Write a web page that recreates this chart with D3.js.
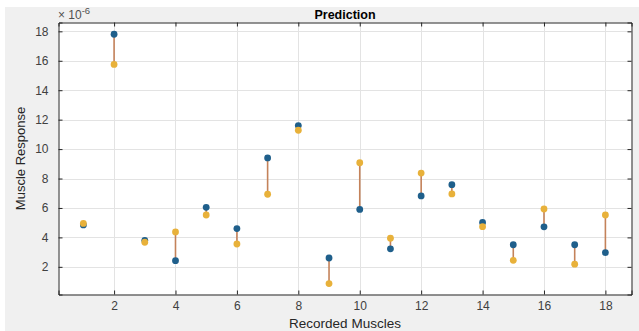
<!DOCTYPE html>
<html><head><meta charset="utf-8">
<script src="https://cdn.jsdelivr.net/npm/d3@7"></script>
<style>body{margin:0;background:#fff;}svg{display:block;}</style>
</head><body>
<svg id="c" width="639" height="331"></svg>
<script>
const muscles = [1,2,3,4,5,6,7,8,9,10,11,12,13,14,15,16,17,18];
const measured = [4.85,17.8,3.8,2.42,6.04,4.6,9.4,11.6,2.6,5.9,3.22,6.82,7.58,5.02,3.5,4.72,3.5,2.96];
const predicted = [4.95,15.75,3.67,4.37,5.52,3.55,6.93,11.28,0.86,9.07,3.94,8.37,6.95,4.73,2.44,5.93,2.18,5.52];
const xTicks = [2,4,6,8,10,12,14,16,18];
const yTicks = [2,4,6,8,10,12,14,16,18];
const titleText = "Prediction";
const xLabel = "Recorded Muscles";
const yLabel = "Muscle Response";

const svg = d3.select("#c");
const L=58.5, R=631.5, T=22.5, B=294.5;
svg.append("rect").attr("x",5).attr("y",7).attr("width",634).attr("height",324).attr("fill","#f0f0f0");
svg.append("rect").attr("x",L).attr("y",T).attr("width",R-L).attr("height",B-T).attr("fill","#fff");

const x = d3.scaleLinear().domain([0.19,18.85]).range([L,R]);
const y = d3.scaleLinear().domain([0.12,18.6]).range([B,T]);

// grid
svg.append("g").selectAll("line").data(xTicks).join("line")
  .attr("x1",d=>Math.round(x(d))+0.5).attr("x2",d=>Math.round(x(d))+0.5).attr("y1",T).attr("y2",B)
  .attr("stroke","#e3e3e3").attr("stroke-width",1);
svg.append("g").selectAll("line").data(yTicks).join("line")
  .attr("y1",d=>Math.round(y(d))+0.5).attr("y2",d=>Math.round(y(d))+0.5).attr("x1",L).attr("x2",R)
  .attr("stroke","#e3e3e3").attr("stroke-width",1);

// axes
const tickCol="#262626";
const xb = d3.axisBottom(x).tickValues(xTicks).tickSize(-4).tickPadding(7).tickFormat(d3.format("d"));
const gx = svg.append("g").attr("transform",`translate(0,${B})`).call(xb);
const xt = d3.axisTop(x).tickValues(xTicks).tickSize(-4).tickFormat("");
const gxt = svg.append("g").attr("transform",`translate(0,${T})`).call(xt);
const yl = d3.axisLeft(y).tickValues(yTicks).tickSize(-4).tickPadding(10).tickFormat(d3.format("d"));
const gy = svg.append("g").attr("transform",`translate(${L},0)`).call(yl);
const yr = d3.axisRight(y).tickValues(yTicks).tickSize(-4).tickFormat("");
const gyr = svg.append("g").attr("transform",`translate(${R},0)`).call(yr);
[gx,gxt,gy,gyr].forEach(g=>{
  g.select(".domain").attr("stroke",tickCol).attr("stroke-width",1);
  g.selectAll(".tick line").attr("stroke",tickCol);
  g.selectAll(".tick text").attr("fill","#404040").attr("font-family","Liberation Sans, Arial, sans-serif").attr("font-size",12);
});

// connecting lines
svg.append("g").selectAll("line").data(muscles).join("line")
  .attr("x1",(d,i)=>x(d)).attr("x2",(d,i)=>x(d))
  .attr("y1",(d,i)=>y(measured[i])).attr("y2",(d,i)=>y(predicted[i]))
  .attr("stroke","#c4825a").attr("stroke-width",1.6);

svg.append("g").selectAll("circle").data(muscles).join("circle")
  .attr("cx",d=>x(d)).attr("cy",(d,i)=>y(measured[i])).attr("r",3.4).attr("fill","#1f5f8b");
svg.append("g").selectAll("circle").data(muscles).join("circle")
  .attr("cx",d=>x(d)).attr("cy",(d,i)=>y(predicted[i])).attr("r",3.4).attr("fill","#e8b13a");

// texts
svg.append("text").attr("x",(L+R)/2).attr("y",19).attr("text-anchor","middle")
  .attr("font-family","Liberation Sans, Arial, sans-serif").attr("font-size",12.5).attr("font-weight","bold").attr("fill","#000").text(titleText);
const ex = svg.append("text").attr("x",58).attr("y",19).attr("font-family","Liberation Sans, Arial, sans-serif").attr("font-size",12).attr("fill","#505050");
ex.append("tspan").text("\u00d7 10");
ex.append("tspan").attr("dy",-5).attr("font-size",9.5).text("-6");
svg.append("text").attr("x",(L+R)/2).attr("y",328).attr("text-anchor","middle")
  .attr("font-family","Liberation Sans, Arial, sans-serif").attr("font-size",13.5).attr("fill","#262626").text(xLabel);
svg.append("text").attr("transform",`translate(25,${(T+B)/2}) rotate(-90)`).attr("text-anchor","middle")
  .attr("font-family","Liberation Sans, Arial, sans-serif").attr("font-size",13).attr("fill","#262626").text(yLabel);
</script>
</body></html>
